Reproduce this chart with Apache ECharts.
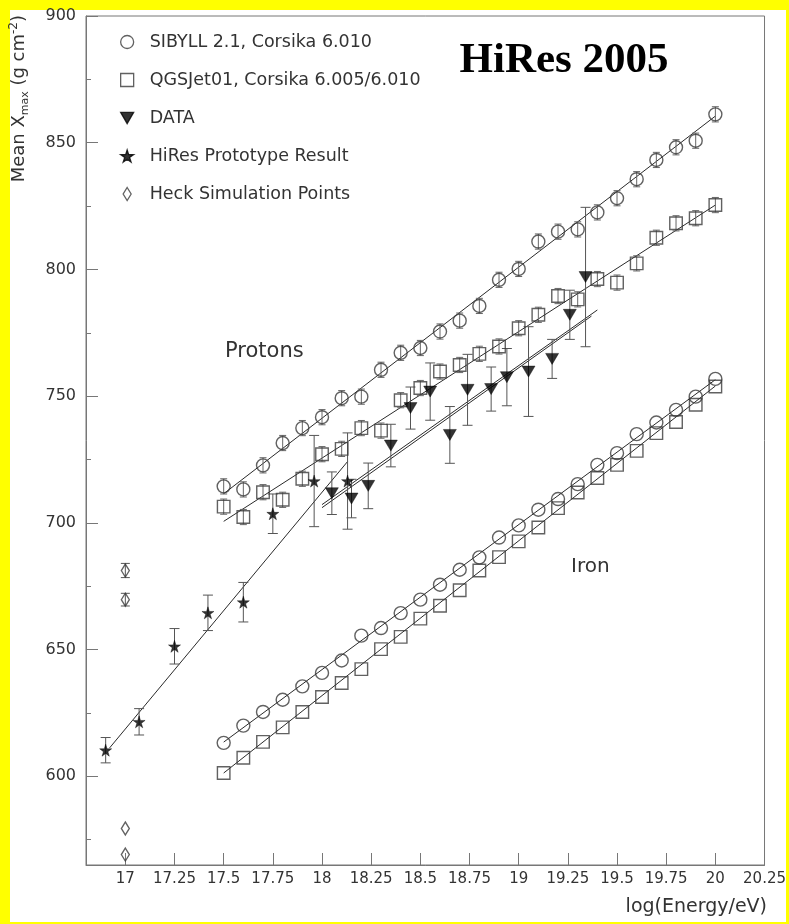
<!DOCTYPE html>
<html>
<head>
<meta charset="utf-8">
<script src="https://cdn.jsdelivr.net/npm/echarts@6/dist/echarts.min.js"></script>
<style>
  html, body { margin: 0; padding: 0; background: #ffff00; }
  #chart { width: 789px; height: 924px; }
</style>
</head>
<body>
<div id="chart"></div>
<script>
// ---- Simulated mean Xmax (g/cm^2) vs log10(E/eV) ----
const simEnergy = [17.5, 17.6, 17.7, 17.8, 17.9, 18.0, 18.1, 18.2, 18.3, 18.4, 18.5, 18.6, 18.7,
                   18.8, 18.9, 19.0, 19.1, 19.2, 19.3, 19.4, 19.5, 19.6, 19.7, 19.8, 19.9, 20.0];
const sibyllProton = [714.4, 713.2, 722.7, 731.5, 737.4, 741.7, 749.2, 749.8, 760.4, 767.1, 769.0, 775.5, 779.8,
                      785.6, 795.9, 800.2, 811.0, 814.9, 815.8, 822.5, 828.1, 835.6, 843.2, 848.2, 850.8, 861.2];
const sibyllProtonErr = [3, 3, 3, 3, 3, 3, 3, 3, 3, 3, 3, 3, 3, 3, 3, 3, 3, 3, 3, 3, 3, 3, 3, 3, 3, 3];
const qgsjetProton = [706.4, 702.3, 712.1, 709.1, 717.4, 727.1, 729.2, 737.4, 736.4, 748.4, 753.2, 759.7, 762.3,
                      766.7, 769.6, 776.8, 782.1, 789.5, 788.2, 796.2, 794.8, 802.4, 812.5, 818.2, 820.2, 825.4];
const qgsjetProtonErr = [3, 3, 3, 3, 3, 3, 3, 3, 3, 3, 3, 3, 3, 3, 3, 3, 3, 3, 3, 3, 3, 3, 3, 3, 3, 3];
const sibyllIron = [613.2, 620.0, 625.4, 630.2, 635.5, 640.8, 645.7, 655.5, 658.5, 664.4, 669.7, 675.6, 681.5,
                    686.4, 694.2, 699.0, 705.2, 709.4, 715.3, 722.9, 727.5, 735.0, 739.6, 744.6, 749.8, 756.8];
const qgsjetIron = [601.3, 607.3, 613.6, 619.3, 625.4, 631.3, 636.8, 642.3, 650.2, 655.0, 662.2, 667.3, 673.4,
                    681.2, 686.5, 692.7, 698.2, 705.8, 712.0, 717.7, 722.9, 728.4, 735.4, 739.8, 746.6, 753.8];

// ---- HiRes stereo data ----
const dataEnergy = [18.05, 18.15, 18.235, 18.35, 18.45, 18.55, 18.65, 18.74, 18.86, 18.94, 19.05, 19.17, 19.26, 19.34];
const dataXmax   = [711.7, 709.6, 714.6, 730.5, 745.3, 751.8, 734.7, 752.5, 752.8, 757.5, 759.7, 764.7, 782.1, 797.0];
const dataErr    = [8.4, 7.6, 9.0, 8.4, 8.3, 11.3, 11.2, 14.0, 8.7, 11.3, 17.7, 7.7, 9.7, 27.5];

// ---- HiRes prototype ----
const protoEnergy = [16.90, 17.07, 17.25, 17.42, 17.60, 17.75, 17.96, 18.13];
const protoXmax   = [610.3, 621.5, 651.3, 664.5, 668.7, 703.6, 716.5, 716.5];
const protoErr    = [5.0, 5.2, 7.0, 7.0, 7.8, 7.8, 18.0, 19.0];

// ---- Heck simulation ----
const heckEnergy = [17.0, 17.0, 17.0, 17.0];
const heckXmax   = [681.2, 669.7, 579.4, 569.1];
const heckErr    = [2.8, 2.5, 0, 0];

// ---- straight-line fits (end points) ----
const fitSibyllProton = [[17.5, 711.5], [20.0, 860.5]];
const fitQgsjetProton = [[17.5, 700.6], [20.0, 825.4]];
const fitSibyllIron   = [[17.5, 613.5], [20.0, 756.5]];
const fitQgsjetIron   = [[17.5, 601.3], [20.0, 754.0]];
const fitPrototype    = [[16.92, 611.2], [18.13, 724.2]];
const fitDataA        = [[18.0, 707.2], [19.40, 784.0]];
const fitDataB        = [[18.0, 706.0], [19.37, 781.6]];

// ---- axes ----
const xTicks = [17, 17.25, 17.5, 17.75, 18, 18.25, 18.5, 18.75, 19, 19.25, 19.5, 19.75, 20, 20.25];
const yTicks = [600, 650, 700, 750, 800, 850, 900];
const yMinorTicks = [575, 625, 675, 725, 775, 825, 875];

const SIBYLL = 'SIBYLL 2.1, Corsika 6.010';
const QGSJET = 'QGSJet01, Corsika 6.005/6.010';
const DATA = 'DATA';
const PROTO = 'HiRes Prototype Result';
const HECK = 'Heck Simulation Points';

const FONT = "'DejaVu Sans', sans-serif";
const TEXT = '#333';
const FRAME = '#777';
const MARK = '#3a3a3a';
const STAR = 'path://M50,0 L61,35 L98,35 L68,57 L79,91 L50,70 L21,91 L32,57 L2,35 L39,35 Z';
const TRI_DOWN = 'path://M0,0 L100,0 L50,86 Z';
const DIAMOND = 'path://M40,0 L80,65 L40,130 L0,65 Z';

function pairs(xs, ys) { return xs.map((x, i) => [x, ys[i]]); }
function bars(xs, ys, es) {
  const out = [];
  xs.forEach((x, i) => { if (es[i] > 0) out.push([x, ys[i] - es[i], ys[i] + es[i]]); });
  return out;
}
const hollow = { color: 'rgba(255,255,255,0)', borderColor: MARK, borderWidth: 1.4 };

function errorBars(points, capHalf, color) {
  return {
    type: 'custom',
    silent: true,
    z: 3,
    encode: { x: 0, y: [1, 2] },
    data: points,
    renderItem: function (params, api) {
      const x = api.value(0);
      const lo = api.coord([x, api.value(1)]);
      const hi = api.coord([x, api.value(2)]);
      const style = { stroke: color, lineWidth: 1 };
      return {
        type: 'group',
        children: [
          { type: 'line', shape: { x1: lo[0], y1: lo[1], x2: hi[0], y2: hi[1] }, style: style },
          { type: 'line', shape: { x1: lo[0] - capHalf, y1: lo[1], x2: lo[0] + capHalf, y2: lo[1] }, style: style },
          { type: 'line', shape: { x1: hi[0] - capHalf, y1: hi[1], x2: hi[0] + capHalf, y2: hi[1] }, style: style }
        ]
      };
    }
  };
}
function fitLine(points) {
  return {
    type: 'line', data: points, showSymbol: false, symbol: 'none', silent: true, z: 2,
    lineStyle: { color: '#2a2a2a', width: 1 }
  };
}

const chart = echarts.init(document.getElementById('chart'), null, { renderer: 'canvas' });
chart.setOption({
  animation: false,
  backgroundColor: '#ffff00',
  grid: { left: 86, right: 22, top: 16, bottom: 59, show: true, borderColor: FRAME, borderWidth: 1, backgroundColor: '#fff' },
  xAxis: {
    type: 'value', min: 16.8, max: 20.25,
    axisLine: { show: true, lineStyle: { color: FRAME, width: 1 } },
    axisTick: { show: true, inside: true, length: 12, customValues: xTicks, lineStyle: { color: FRAME } },
    axisLabel: { customValues: xTicks, color: TEXT, fontFamily: FONT, fontSize: 15, margin: 7,
                 formatter: v => String(v) },
    splitLine: { show: false }
  },
  yAxis: [{
    type: 'value', min: 565, max: 900, position: 'left',
    axisLine: { show: true, lineStyle: { color: FRAME, width: 1 } },
    axisTick: { show: true, inside: true, length: 12, customValues: yTicks, lineStyle: { color: FRAME } },
    axisLabel: { customValues: yTicks, color: TEXT, fontFamily: FONT, fontSize: 16, margin: 10 },
    splitLine: { show: false }
  }, {
    type: 'value', min: 565, max: 900, position: 'left', offset: 0,
    axisLine: { show: false },
    axisTick: { show: true, inside: true, length: 5, customValues: yMinorTicks, lineStyle: { color: FRAME } },
    axisLabel: { show: false },
    splitLine: { show: false }
  }],
  legend: {
    orient: 'vertical', left: 120, top: 32, padding: 0,
    itemWidth: 13, itemHeight: 13, itemGap: 18,
    selectedMode: false,
    data: [SIBYLL, QGSJET, DATA, PROTO, HECK],
    itemStyle: { borderWidth: 1.3 },
    textStyle: { color: TEXT, fontFamily: FONT, fontSize: 17.5, lineHeight: 20, padding: [0, 0, 0, 11] }
  },
  graphic: [
    { type: 'rect', z: -100, silent: true, shape: { x: 10, y: 10, width: 776, height: 912 }, style: { fill: '#fff' } },
    { type: 'text', x: 564, y: 61, silent: true,
      style: { text: 'HiRes 2005', fill: '#000', fontFamily: "'Liberation Serif', 'Times New Roman', serif",
               fontWeight: 'bold', fontSize: 43, align: 'center', verticalAlign: 'middle' } },
    { type: 'text', x: 225, y: 352, silent: true,
      style: { text: 'Protons', fill: TEXT, fontFamily: FONT, fontSize: 21, align: 'left', verticalAlign: 'middle' } },
    { type: 'text', x: 571, y: 567, silent: true,
      style: { text: 'Iron', fill: TEXT, fontFamily: FONT, fontSize: 20, align: 'left', verticalAlign: 'middle' } },
    { type: 'text', x: 767, y: 907, silent: true,
      style: { text: 'log(Energy/eV)', fill: TEXT, fontFamily: FONT, fontSize: 19, align: 'right', verticalAlign: 'middle' } },
    { type: 'text', x: 19, y: 15, rotation: Math.PI / 2, silent: true,
      style: {
        text: 'Mean X{sub|max} (g cm{sup|-2})',
        fill: TEXT, fontFamily: FONT, fontSize: 18, lineHeight: 23,
        align: 'right', verticalAlign: 'middle',
        rich: {
          sub: { fontSize: 11, fontFamily: FONT, fill: TEXT, verticalAlign: 'bottom', lineHeight: 23 },
          sup: { fontSize: 12, fontFamily: FONT, fill: TEXT, verticalAlign: 'top', lineHeight: 23 }
        }
      } }
  ],
  series: [
    fitLine(fitSibyllProton), fitLine(fitQgsjetProton), fitLine(fitSibyllIron), fitLine(fitQgsjetIron),
    fitLine(fitPrototype), fitLine(fitDataA), fitLine(fitDataB),
    errorBars(bars(simEnergy, sibyllProton, sibyllProtonErr), 3.5, '#666'),
    errorBars(bars(simEnergy, qgsjetProton, qgsjetProtonErr), 3.5, '#666'),
    errorBars(bars(dataEnergy, dataXmax, dataErr), 5, '#555'),
    errorBars(bars(protoEnergy, protoXmax, protoErr), 5, '#555'),
    errorBars(bars(heckEnergy, heckXmax, heckErr), 4.5, '#555'),
    { name: SIBYLL, type: 'scatter', z: 5, symbol: 'circle', symbolSize: 13, itemStyle: hollow,
      data: pairs(simEnergy, sibyllProton) },
    { name: SIBYLL, type: 'scatter', z: 5, symbol: 'circle', symbolSize: 13, itemStyle: hollow,
      data: pairs(simEnergy, sibyllIron) },
    { name: QGSJET, type: 'scatter', z: 5, symbol: 'rect', symbolSize: 12.5, itemStyle: hollow,
      data: pairs(simEnergy, qgsjetProton) },
    { name: QGSJET, type: 'scatter', z: 5, symbol: 'rect', symbolSize: 12.5, itemStyle: hollow,
      data: pairs(simEnergy, qgsjetIron) },
    { name: DATA, type: 'scatter', z: 6, symbol: TRI_DOWN, symbolSize: [13, 11],
      itemStyle: { color: '#000', borderColor: '#000', borderWidth: 0.5 },
      data: pairs(dataEnergy, dataXmax) },
    { name: PROTO, type: 'scatter', z: 6, symbol: STAR, symbolSize: 12,
      itemStyle: { color: '#000', borderColor: '#000', borderWidth: 0.5 },
      data: pairs(protoEnergy, protoXmax) },
    { name: HECK, type: 'scatter', z: 6, symbol: DIAMOND, symbolSize: [8, 13], itemStyle: hollow,
      data: pairs(heckEnergy, heckXmax) }
  ]
});
</script>
</body>
</html>
